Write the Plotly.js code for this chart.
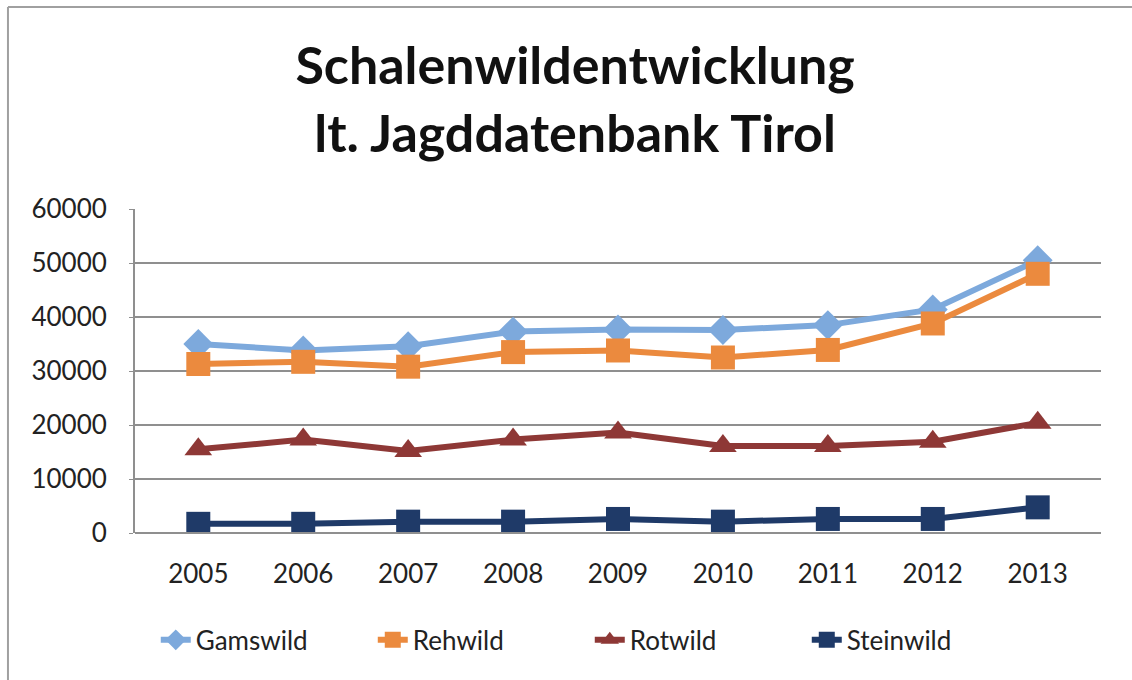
<!DOCTYPE html>
<html>
<head>
<meta charset="utf-8">
<script src="https://cdn.plot.ly/plotly-3.0.1.min.js"></script>
<style>html,body{margin:0;padding:0;background:#fff;}#chart{width:1132px;height:680px;}</style>
</head>
<body>
<div id="chart"></div>
<script>
const years = ['2005','2006','2007','2008','2009','2010','2011','2012','2013'];
const gamswild = [35000, 33800, 34600, 37300, 37700, 37600, 38500, 41400, 50500];
const rehwild = [31300, 31700, 30800, 33500, 33800, 32500, 33900, 38800, 48000];
const rotwild = [15500, 17300, 15200, 17300, 18600, 16100, 16100, 16900, 20400];
const steinwild = [1700, 1700, 2100, 2100, 2600, 2100, 2600, 2600, 4750];
const seriesNames = ['Gamswild', 'Rehwild', 'Rotwild', 'Steinwild'];
const yTicks = [0, 10000, 20000, 30000, 40000, 50000, 60000];

const colors = ['#7DA9DC', '#EB8A3E', '#8E3836', '#1F3A68'];
const symbols = ['diamond', 'square', 'triangle-up', 'square'];
const sizes = [23, 24, 24, 24];
const data = [gamswild, rehwild, rotwild, steinwild].map((vals, i) => ({
  type: 'scatter', mode: 'lines+markers', x: years, y: vals, name: seriesNames[i],
  line: {color: colors[i], width: 6},
  marker: {color: colors[i], symbol: symbols[i], size: sizes[i]}
}));

const layout = {
  width: 1132, height: 680,
  margin: {l: 135, r: 31, t: 209, b: 147},
  paper_bgcolor: '#fff', plot_bgcolor: '#fff',
  font: {family: 'Lato, "Open Sans", sans-serif', color: '#222'},
  title: {
    text: 'Schalenwildentwicklung<br>lt. Jagddatenbank Tirol',
    font: {size: 52, family: 'Lato, sans-serif', color: '#111', weight: 'bold'},
    xref: 'container', x: 0.508, xanchor: 'center',
    yref: 'container', y: 0.876, yanchor: 'middle'
  },
  showlegend: true,
  legend: {orientation: 'h', xref: 'container', x: 0.521, xanchor: 'center', yref: 'container', y: 0.059, yanchor: 'middle',
    font: {size: 26, color: '#222'}, itemwidth: 30, entrywidth: 172, traceorder: 'normal'},
  xaxis: {
    type: 'category', showgrid: false, showline: false, zeroline: false,
    ticks: '', tickfont: {size: 26, color: '#222'}, ticklabelstandoff: 23
  },
  yaxis: {
    range: [0, 60000], tickvals: yTicks, ticktext: yTicks.map(String),
    showgrid: true, gridcolor: '#8f8f8f', gridwidth: 2,
    showline: true, linecolor: '#8f8f8f', linewidth: 2,
    zeroline: false, ticks: 'outside', ticklen: 4, tickcolor: '#8f8f8f',
    tickfont: {size: 26, color: '#222'}, ticklabelstandoff: 17
  },
  shapes: [
    {type: 'line', xref: 'paper', yref: 'paper', x0: 0, x1: 1, y0: 0, y1: 0, line: {color: '#8f8f8f', width: 2}},
    {type: 'line', xref: 'paper', yref: 'paper', x0: -0.1315, x1: 1.2, y0: 1.6235, y1: 1.6235, line: {color: '#a0a0a0', width: 2}},
    {type: 'line', xref: 'paper', yref: 'paper', x0: -0.1315, x1: -0.1315, y0: -0.6, y1: 1.6235, line: {color: '#a0a0a0', width: 2}}
  ]
};
Plotly.newPlot('chart', data, layout, {displayModeBar: false, staticPlot: true});
</script>
</body>
</html>
